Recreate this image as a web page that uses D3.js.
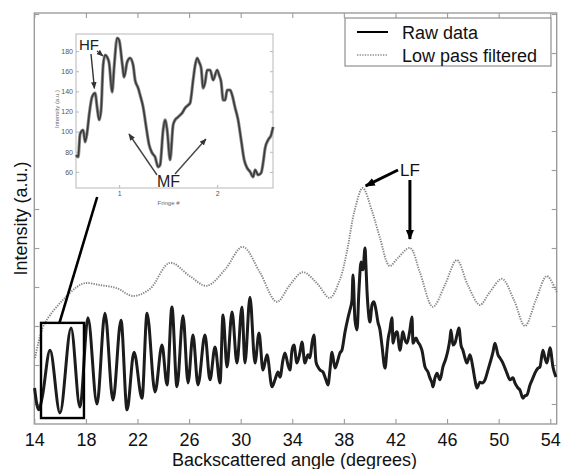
<!DOCTYPE html>
<html>
<head>
<meta charset="utf-8">
<script src="https://cdn.jsdelivr.net/npm/d3@7"></script>
<style>
  body { margin: 0; background: #fff; }
  svg { display: block; }
  text { font-family: Arial, "Liberation Sans", Helvetica, sans-serif; }
</style>
</head>
<body>
<svg id="chart" width="563" height="469"></svg>
<script>
// ---- Main panel: backscattered intensity vs angle ----
const angleTicks = [14, 18, 22, 26, 30, 34, 38, 42, 46, 50, 54];
const intensityTicks = [0, 10, 20, 30, 40, 50, 60, 70, 80, 90, 100];
const angleDomain = [14, 54.5];
const intensityDomain = [-5.13, 100.26];

// Raw measurement (degrees, a.u.)
const rawAngle = [14.02,14.21,14.36,14.60,15.22,15.99,16.85,17.54,18.16,18.86,19.48,20.10,20.72,21.19,21.73,22.35,22.74,23.36,23.90,24.29,24.67,25.06,25.53,25.92,26.30,26.69,27.23,27.62,28.01,28.40,28.63,28.94,29.33,29.71,30.10,30.33,30.72,31.11,31.42,31.73,32.04,32.43,32.66,32.89,33.05,33.28,33.43,33.67,33.82,33.98,34.13,34.36,34.60,34.75,34.98,35.22,35.37,35.53,35.68,35.84,35.99,36.15,36.38,36.61,36.77,36.92,37.08,37.31,37.47,37.70,37.85,38.09,38.32,38.47,38.63,38.71,38.86,39.02,39.17,39.33,39.48,39.64,39.71,39.79,39.87,40.02,40.18,40.33,40.49,40.64,40.80,40.95,41.19,41.34,41.42,41.57,41.73,41.81,41.96,42.12,42.35,42.58,42.74,42.89,43.12,43.28,43.36,43.59,43.74,43.90,44.05,44.29,44.52,44.67,44.83,44.91,45.06,45.22,45.45,45.68,45.92,46.07,46.23,46.30,46.46,46.61,46.77,46.92,47.08,47.23,47.39,47.54,47.78,48.01,48.16,48.32,48.55,48.71,48.94,49.17,49.33,49.56,49.71,49.95,50.10,50.33,50.49,50.64,50.88,51.11,51.26,51.50,51.65,51.88,52.04,52.19,52.43,52.66,52.81,53.05,53.20,53.43,53.59,53.74,53.98,54.21,54.44];
const rawValue = [4.1,-0.3,-1.5,1.5,13.8,-2.3,19.5,-0.8,22.1,0,23.3,1.0,21.5,-1.5,13.3,1.5,23.3,3.1,15.1,4.9,24.9,4.4,22.6,5.4,17.7,4.9,17.7,6.2,14.6,5.4,22.8,9.5,23.6,10.5,24.9,10.5,27.4,10.5,18.2,8.7,12.6,4.4,6.2,8.2,6.9,11.3,13.1,10.0,8.7,13.8,15.1,10.5,13.3,15.9,10.5,12.6,11.8,15.6,17.7,10.8,9.5,8.7,8.2,6.2,4.9,8.7,13.3,9.2,10.5,13.1,13.8,18.5,22.1,24.1,26.7,33.1,21.5,19.0,29.2,36.4,34.4,40.0,35.6,29.2,24.9,21.0,25.4,26.2,24.1,21.0,19.0,15.1,9.2,13.8,16.4,19.0,22.1,15.6,17.7,18.5,13.8,18.5,16.4,15.6,19.0,22.3,15.6,16.9,15.9,15.1,13.8,9.5,8.2,6.7,5.4,4.4,6.7,7.9,6.2,9.5,11.8,13.8,16.9,19.0,15.1,15.6,17.7,19.5,15.1,13.8,11.8,10.5,12.6,9.2,6.2,4.1,5.6,5.4,6.2,8.7,10.5,13.3,15.6,12.6,11.8,10.5,9.2,7.9,6.2,6.7,5.4,4.1,3.6,1.5,2.1,2.3,4.9,6.7,7.9,9.2,9.5,13.8,11.8,10.5,14.4,9.5,6.9];

// Low pass filtered version (degrees, a.u.)
const lpAngle = [14.05,14.67,15.22,16.22,17.30,17.92,19.09,20.40,21.64,22.96,24.51,26.06,27.37,28.77,30.16,31.48,32.80,33.81,34.82,35.90,36.91,37.68,38.23,38.84,39.46,40.16,40.78,41.55,42.17,43.12,43.89,44.90,45.83,46.76,47.61,48.54,49.32,50.25,51.18,52.04,52.89,53.74,54.5];
const lpValue = [11.8,19.7,22.8,26.7,30.0,31.0,30.5,29.7,27.7,29.5,36.2,32.8,30.3,34.4,40.3,33.8,26.2,30.5,33.8,31.0,27.2,31.8,39.0,49.7,55.4,49.7,42.8,35.4,37.4,40.0,33.8,24.9,30.5,36.9,30.5,25.4,28.7,32.1,26.7,20.0,26.7,32.8,28.7];

// Zoomed window shown in the inset (degrees, a.u.)
const zoomAngle = [14.52, 17.85];
const zoomValue = [-3.6, 20.8];

// ---- Inset: intensity vs fringe number ----
const fringeTicks = [1, 2];
const insetIntensityTicks = [60, 80, 100, 120, 140, 160, 180];
const fringeDomain = [0.56, 2.57];
const insetIntensityDomain = [44, 197];
const fringe = [0.561,0.582,0.602,0.633,0.653,0.673,0.694,0.724,0.755,0.776,0.796,0.816,0.837,0.857,0.878,0.898,0.929,0.949,0.980,1.000,1.031,1.051,1.082,1.112,1.143,1.163,1.194,1.214,1.245,1.276,1.306,1.337,1.367,1.398,1.418,1.449,1.469,1.490,1.520,1.551,1.571,1.602,1.622,1.643,1.673,1.704,1.724,1.755,1.776,1.796,1.816,1.837,1.857,1.878,1.898,1.929,1.959,2.000,2.020,2.041,2.061,2.082,2.102,2.133,2.153,2.184,2.214,2.245,2.276,2.306,2.337,2.367,2.388,2.418,2.449,2.469,2.490,2.520,2.551,2.571];
const fringeIntensity = [76.8,74.8,97.7,101.6,89.7,98.7,116.5,134.4,138.3,123.5,111.6,121.5,166.1,176.0,174.0,168.1,139.3,164.1,192.9,190.9,168.1,154.2,169.1,173.1,166.1,151.2,143.3,136.4,124.4,104.6,86.8,78.8,74.8,64.9,66.9,101.6,111.6,101.6,71.9,106.6,111.6,114.5,116.5,118.5,123.5,126.4,128.4,151.2,166.1,173.1,169.1,163.1,143.3,149.2,161.2,161.2,151.2,161.2,156.2,149.2,131.4,131.4,141.3,141.3,136.4,123.5,111.6,91.7,71.9,63.9,60.0,55.0,62.0,57.0,59.0,68.9,83.8,91.7,96.7,104.6];

const legendLabels = ["Raw data", "Low pass filtered"];

// ---- Layout ----
const plot = { left: 34.3, right: 556.7, top: 13, bottom: 424 };
const inset = { left: 76, right: 273, top: 34, bottom: 188 };
const frameColor = "#9c9c9c";

const svg = d3.select("#chart");

const x = d3.scaleLinear().domain(angleDomain).range([plot.left, plot.right]);
const y = d3.scaleLinear().domain(intensityDomain).range([plot.bottom, plot.top]);

// Axes with inward ticks on all four sides
function styleAxis(g) {
  g.select(".domain").remove();
  g.selectAll(".tick line").attr("stroke", frameColor).attr("stroke-width", 1.1);
}

svg.append("g")
  .attr("transform", `translate(0,${plot.bottom})`)
  .call(d3.axisBottom(x).tickValues(angleTicks).tickSize(-5).tickPadding(9).tickFormat(d3.format("d")))
  .call(styleAxis)
  .call(g => g.selectAll(".tick text").attr("font-size", 18).attr("fill", "#111")
    .attr("font-family", "Arial, 'Liberation Sans', sans-serif"));

svg.append("g")
  .attr("transform", `translate(0,${plot.top})`)
  .call(d3.axisTop(x).tickValues(angleTicks).tickSize(-5).tickFormat(""))
  .call(styleAxis);

svg.append("g")
  .attr("transform", `translate(${plot.left},0)`)
  .call(d3.axisLeft(y).tickValues(intensityTicks).tickSize(-5).tickFormat(""))
  .call(styleAxis);

svg.append("g")
  .attr("transform", `translate(${plot.right},0)`)
  .call(d3.axisRight(y).tickValues(intensityTicks).tickSize(-5).tickFormat(""))
  .call(styleAxis);

svg.append("rect")
  .attr("x", plot.left).attr("y", plot.top)
  .attr("width", plot.right - plot.left).attr("height", plot.bottom - plot.top)
  .attr("fill", "none").attr("stroke", frameColor).attr("stroke-width", 1.4);

// Axis titles
svg.append("text")
  .attr("x", (plot.left + plot.right) / 2 - 1).attr("y", 466)
  .attr("text-anchor", "middle").attr("font-size", 18).attr("fill", "#111")
  .text("Backscattered angle (degrees)");

svg.append("text")
  .attr("transform", `translate(27,${(plot.top + plot.bottom) / 2}) rotate(-90)`)
  .attr("text-anchor", "middle").attr("font-size", 18).attr("fill", "#111")
  .text("Intensity (a.u.)");

// Series
const lpLine = d3.line().x(i => x(lpAngle[i])).y(i => y(lpValue[i])).curve(d3.curveCatmullRom.alpha(0.5));
svg.append("path")
  .attr("d", lpLine(d3.range(lpAngle.length)))
  .attr("fill", "none").attr("stroke", "#858585").attr("stroke-width", 1.9)
  .attr("stroke-dasharray", "1.3 1.2");

const rawLine = d3.line().x(i => x(rawAngle[i])).y(i => y(rawValue[i])).curve(d3.curveMonotoneX);
svg.append("path")
  .attr("d", rawLine(d3.range(rawAngle.length)))
  .attr("fill", "none").attr("stroke", "#1c1c1c").attr("stroke-width", 3)
  .attr("stroke-linejoin", "round");

// Zoom window
svg.append("rect")
  .attr("x", x(zoomAngle[0])).attr("y", y(zoomValue[1]))
  .attr("width", x(zoomAngle[1]) - x(zoomAngle[0]))
  .attr("height", y(zoomValue[0]) - y(zoomValue[1]))
  .attr("fill", "none").attr("stroke", "#000").attr("stroke-width", 2.4);

// ---- Inset ----
svg.append("rect").attr("x", 35).attr("y", 19).attr("width", 246).attr("height", 184).attr("fill", "#fff");

const fx = d3.scaleLinear().domain(fringeDomain).range([inset.left, inset.right]);
const fy = d3.scaleLinear().domain(insetIntensityDomain).range([inset.bottom, inset.top]);

const insetColor = "#b8b8b8";
function styleInset(g) {
  g.select(".domain").remove();
  g.selectAll(".tick line").attr("stroke", insetColor);
  g.selectAll(".tick text").attr("font-size", 7).attr("fill", "#555");
}
svg.append("g").attr("transform", `translate(0,${inset.bottom})`)
  .call(d3.axisBottom(fx).tickValues(fringeTicks).tickSize(-3).tickPadding(3).tickFormat(d3.format("d")))
  .call(styleInset);
svg.append("g").attr("transform", `translate(${inset.left},0)`)
  .call(d3.axisLeft(fy).tickValues(insetIntensityTicks).tickSize(-3).tickPadding(3))
  .call(styleInset);
svg.append("g").attr("transform", `translate(${inset.right},0)`)
  .call(d3.axisRight(fy).tickValues(insetIntensityTicks).tickSize(-3).tickFormat(""))
  .call(styleInset);
svg.append("rect")
  .attr("x", inset.left).attr("y", inset.top)
  .attr("width", inset.right - inset.left).attr("height", inset.bottom - inset.top)
  .attr("fill", "none").attr("stroke", insetColor).attr("stroke-width", 1);

svg.append("text").attr("x", (inset.left + inset.right) / 2 - 6).attr("y", 205)
  .attr("text-anchor", "middle").attr("font-size", 6).attr("fill", "#666").text("Fringe #");
svg.append("text").attr("transform", `translate(59,${(inset.top + inset.bottom) / 2 - 2}) rotate(-90)`)
  .attr("text-anchor", "middle").attr("font-size", 6).attr("fill", "#666").text("Intensity (a.u.)");

const insetLine = d3.line().x(i => fx(fringe[i])).y(i => fy(fringeIntensity[i])).curve(d3.curveMonotoneX);
svg.append("path")
  .attr("d", insetLine(d3.range(fringe.length)))
  .attr("fill", "none").attr("stroke", "#8f8f8f").attr("stroke-width", 3.2).attr("stroke-linejoin", "round");
svg.append("path")
  .attr("d", insetLine(d3.range(fringe.length)))
  .attr("fill", "none").attr("stroke", "#3a3a3a").attr("stroke-width", 1.6).attr("stroke-linejoin", "round");

// Leader line from the zoom window up to the inset
svg.append("line")
  .attr("x1", x(15.95)).attr("y1", y(zoomValue[1]))
  .attr("x2", fx(0.776)).attr("y2", 197)
  .attr("stroke", "#000").attr("stroke-width", 2.6);

// ---- Annotations ----
const defs = svg.append("defs");
function arrowMarker(id, color, size) {
  defs.append("marker").attr("id", id)
    .attr("viewBox", "0 0 10 10").attr("refX", 9).attr("refY", 5)
    .attr("markerUnits", "userSpaceOnUse")
    .attr("markerWidth", size).attr("markerHeight", size)
    .attr("orient", "auto")
    .append("path").attr("d", "M0,1 L10,5 L0,9 Z").attr("fill", color);
}
arrowMarker("headBlack", "#000", 10);
arrowMarker("headGray", "#333", 7);

function arrow(x1, y1, x2, y2, color, width, head) {
  svg.append("line").attr("x1", x1).attr("y1", y1).attr("x2", x2).attr("y2", y2)
    .attr("stroke", color).attr("stroke-width", width).attr("marker-end", `url(#${head})`);
}

// LF: both long-period peaks of the filtered curve
svg.append("text").attr("x", 400).attr("y", 176).attr("font-size", 17).attr("fill", "#111").text("LF");
arrow(398, 170, x(lpAngle[24]) + 3, y(lpValue[24]) - 2, "#000", 3, "headBlack");
arrow(x(43.12), 180, x(43.12), y(lpValue[29]) - 9, "#000", 3, "headBlack");

// HF in the inset
svg.append("text").attr("x", 79).attr("y", 50).attr("font-size", 15).attr("fill", "#222").text("HF");
arrow(91, 54, fx(0.748), fy(139) - 4, "#333", 1.4, "headGray");
arrow(97, 51, 103, 56, "#333", 1.2, "headGray");

// MF in the inset
svg.append("text").attr("x", 157).attr("y", 187).attr("font-size", 16).attr("fill", "#222").text("MF");
arrow(157, 175, 129, 134, "#444", 1.4, "headGray");
arrow(175, 174, 206, 139, "#444", 1.4, "headGray");

// ---- Legend ----
const legend = svg.append("g");
legend.append("rect").attr("x", 345).attr("y", 18).attr("width", 206).attr("height", 48)
  .attr("fill", "#fff").attr("stroke", "#7a7a7a").attr("stroke-width", 1);
legend.append("line").attr("x1", 357).attr("x2", 388).attr("y1", 32).attr("y2", 32)
  .attr("stroke", "#000").attr("stroke-width", 2);
legend.append("line").attr("x1", 357).attr("x2", 388).attr("y1", 55).attr("y2", 55)
  .attr("stroke", "#8a8a8a").attr("stroke-width", 1.5).attr("stroke-dasharray", "1.3 1.3");
legend.selectAll("text.lg").data(legendLabels).join("text").attr("class", "lg")
  .attr("x", 402).attr("y", (d, i) => 38.5 + i * 23)
  .attr("font-size", 18).attr("fill", "#111").text(d => d);
</script>
</body>
</html>
